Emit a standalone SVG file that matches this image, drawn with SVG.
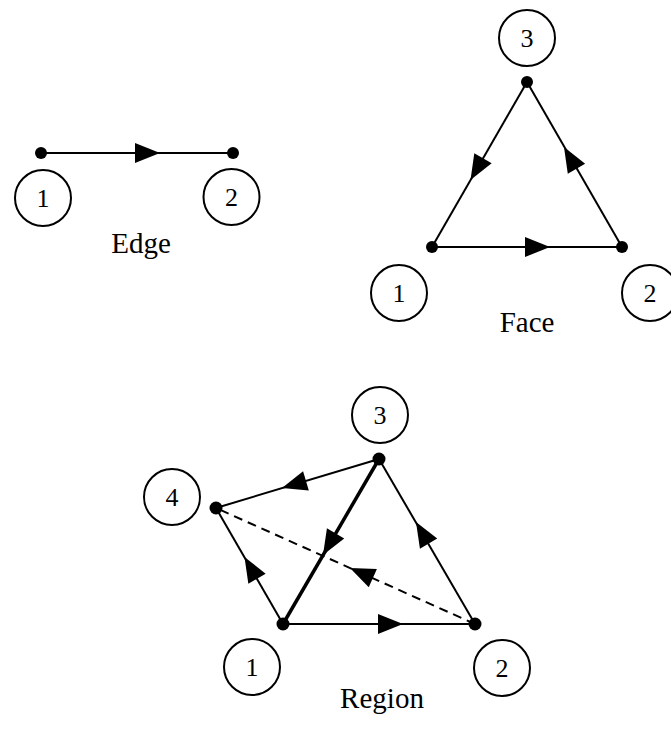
<svg xmlns="http://www.w3.org/2000/svg" xmlns:xlink="http://www.w3.org/1999/xlink" width="671" height="730" viewBox="0 0 671 730">
<style>
.ln{stroke:#000;stroke-width:2;fill:none}
.bold{stroke:#000;stroke-width:3.5;fill:none}
.dash{stroke:#000;stroke-width:2;fill:none;stroke-dasharray:9,6}
.lbl{fill:none;stroke:#000;stroke-width:2}
.dot{fill:#000}
.num{font-family:"Liberation Serif",serif;font-size:26px;text-anchor:middle;fill:#000}
.cap{font-family:"Liberation Serif",serif;font-size:29px;text-anchor:middle;fill:#000}
</style>
<defs>
<path id="ah" d="M0,0 L-25,-10 L-25,10 Z" fill="#000"/>
</defs>
<rect width="671" height="730" fill="#fff"/>
<g id="connectors">
<line class="ln" x1="41" y1="153" x2="233" y2="153"/>
<use xlink:href="#ah" transform="translate(160,153)"/>
<line class="ln" x1="432" y1="247" x2="622" y2="247"/>
<line class="ln" x1="527" y1="82" x2="432" y2="247"/>
<line class="ln" x1="622" y1="247" x2="527" y2="82"/>
<use xlink:href="#ah" transform="translate(550,247)"/>
<use xlink:href="#ah" transform="translate(470.5,180) rotate(119.9)"/>
<use xlink:href="#ah" transform="translate(564,147) rotate(-119.9)"/>
<line class="ln" x1="379" y1="459" x2="216" y2="508"/>
<line class="bold" x1="379" y1="459" x2="283" y2="624"/>
<line class="ln" x1="283" y1="624" x2="216" y2="508"/>
<line class="ln" x1="475" y1="624" x2="379" y2="459"/>
<line class="ln" x1="283" y1="624" x2="475" y2="624"/>
<line class="dash" x1="475" y1="624" x2="216" y2="508"/>
<use xlink:href="#ah" transform="translate(282,488) rotate(163.3)"/>
<use xlink:href="#ah" transform="translate(323,555) rotate(120.2)"/>
<use xlink:href="#ah" transform="translate(244.5,557) rotate(-120)"/>
<use xlink:href="#ah" transform="translate(416,522) rotate(-120.2)"/>
<use xlink:href="#ah" transform="translate(403,624)"/>
<use xlink:href="#ah" transform="translate(350,568) rotate(-155.9)"/>
</g>
<g id="edge-v1"><circle class="dot" cx="41" cy="153" r="6"/><circle class="lbl" cx="43" cy="198" r="28"/><text class="num" x="43" y="207">1</text></g>
<g id="edge-v2"><circle class="dot" cx="233" cy="153" r="6"/><circle class="lbl" cx="231.5" cy="197" r="28"/><text class="num" x="231.5" y="206">2</text></g>
<text id="edge-label" class="cap" x="141" y="253">Edge</text>
<g id="face-v3"><circle class="dot" cx="527" cy="82" r="6"/><circle class="lbl" cx="527" cy="38" r="28"/><text class="num" x="527" y="47">3</text></g>
<g id="face-v1"><circle class="dot" cx="432" cy="247" r="6"/><circle class="lbl" cx="399" cy="293" r="28"/><text class="num" x="399" y="302">1</text></g>
<g id="face-v2"><circle class="dot" cx="622" cy="247" r="6"/><circle class="lbl" cx="650" cy="293" r="28"/><text class="num" x="650" y="302">2</text></g>
<text id="face-label" class="cap" x="527" y="332">Face</text>
<g id="region-v3"><circle class="dot" cx="379" cy="459" r="6.5"/><circle class="lbl" cx="380" cy="415" r="28"/><text class="num" x="380" y="424">3</text></g>
<g id="region-v4"><circle class="dot" cx="216" cy="508" r="6.5"/><circle class="lbl" cx="172" cy="497" r="28"/><text class="num" x="172" y="506">4</text></g>
<g id="region-v1"><circle class="dot" cx="283" cy="624" r="6.5"/><circle class="lbl" cx="252" cy="667" r="28"/><text class="num" x="252" y="676">1</text></g>
<g id="region-v2"><circle class="dot" cx="475" cy="624" r="6.5"/><circle class="lbl" cx="502" cy="668" r="28"/><text class="num" x="502" y="677">2</text></g>
<text id="region-label" class="cap" x="382" y="708">Region</text>
</svg>
